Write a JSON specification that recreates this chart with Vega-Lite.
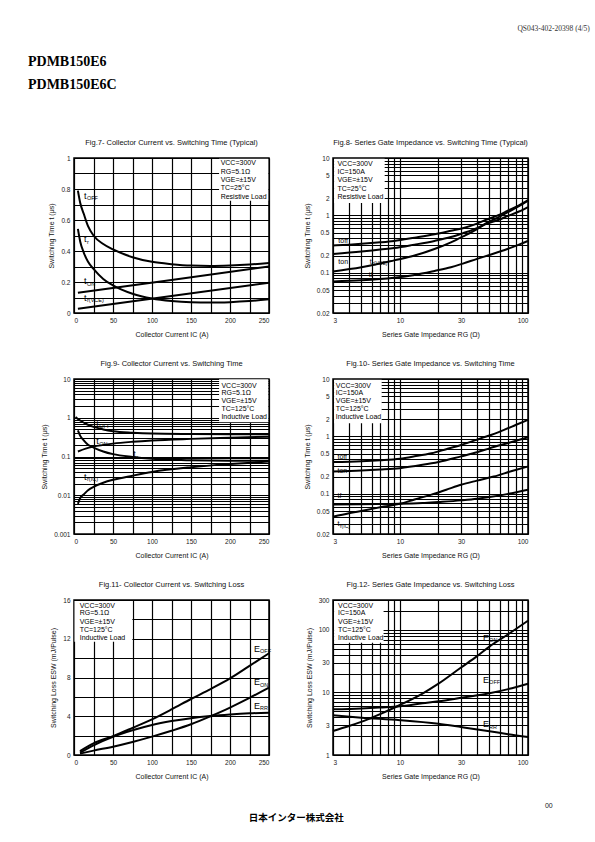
{
"$schema":"https://vega.github.io/schema/vega-lite/v6.json",
"padding":{"left":27,"top":25,"right":5,"bottom":5},
"background":"white",
"title":{"text":"QS043-402-20398 (4/5)","anchor":"end","fontSize":7.5,"font":"Liberation Serif","fontWeight":"normal","color":"#333","offset":22,"dx":37},
"vconcat":[{
 "title":{"text":["PDMB150E6","PDMB150E6C"],"anchor":"start","fontSize":14,"font":"Liberation Serif","fontWeight":"bold","color":"black","lineHeight":23,"offset":46,"dx":-12},
 "vconcat":[{
  "title":{"text":"日本インター株式会社","orient":"bottom","anchor":"middle","fontSize":9.5,"font":"Noto Sans CJK JP","fontWeight":"bold","color":"black","offset":4},
  "vconcat":[{
   "title":{"text":"00","orient":"bottom","anchor":"end","fontSize":7,"fontWeight":"normal","color":"#222","offset":22,"dx":20},
   "columns":2,
   "spacing":{"row":66,"column":64},
   "bounds":"flush",
   "concat":[
    {"width":195,"height":155,"data":{"name":"f7"},
     "title":{"text":"Fig.7- Collector Current vs. Switching Time (Typical)"},
     "encoding":{
      "x":{"field":"x","type":"quantitative","scale":{"domain":[0,250],"nice":false},"axis":{"title":"Collector Current IC (A)","values":[0,25,50,75,100,125,150,175,200,225,250],"labelExpr":"datum.value % 50 === 0 ? format(datum.value, 'd') : ''"}},
      "y":{"field":"y","type":"quantitative","scale":{"domain":[0,1],"nice":false},"axis":{"title":"Switching Time t (μs)","values":[0,0.1,0.2,0.3,0.4,0.5,0.6,0.7,0.8,0.9,1],"format":"~g","labelExpr":"indexof(['0','0.2','0.4','0.6','0.8','1'], datum.label) >= 0 ? datum.label : ''"}}},
     "layer":[
      {"transform":[{"filter":"datum.k==='b'"}],"mark":{"type":"rect","fill":"white"},"encoding":{"x2":{"field":"x2"},"y2":{"field":"y2"}}},
      {"transform":[{"filter":"datum.k==='c'"}],"mark":{"type":"line","stroke":"black","strokeWidth":2,"interpolate":"monotone"},"encoding":{"detail":{"field":"s"}}},
      {"transform":[{"filter":"datum.k==='n'"}],"mark":{"type":"text","align":"left","baseline":"middle","fontSize":7,"fill":"black"},"encoding":{"text":{"field":"t"}}},
      {"transform":[{"filter":"datum.k==='l'"}],"mark":{"type":"text","align":"left","baseline":"middle","fontSize":9,"fill":"black"},"encoding":{"text":{"field":"m"}}},
      {"transform":[{"filter":"datum.k==='l'"}],"mark":{"type":"text","align":"left","baseline":"middle","fontSize":5.5,"dx":3,"dy":2.5,"fill":"black"},"encoding":{"text":{"field":"sub"}}}
     ]},
    {"width":195,"height":155,"data":{"name":"f8"},
     "title":{"text":"Fig.8- Series Gate Impedance vs. Switching Time  (Typical)"},
     "encoding":{
      "x":{"field":"x","type":"quantitative","scale":{"type":"log","domain":[3,100],"nice":false},"axis":{"title":"Series Gate Impedance RG (Ω)","values":[3,4,5,6,7,8,9,10,20,30,40,50,60,70,80,90,100],"format":"~g","labelExpr":"indexof(['3','10','30','100'], datum.label) >= 0 ? datum.label : ''"}},
      "y":{"field":"y","type":"quantitative","scale":{"type":"log","domain":[0.02,10],"nice":false},"axis":{"title":"Switching Time t (μs)","values":[0.02,0.03,0.04,0.05,0.06,0.07,0.08,0.09,0.1,0.2,0.3,0.4,0.5,0.6,0.7,0.8,0.9,1,2,3,4,5,6,7,8,9,10],"format":"~g","labelExpr":"indexof(['0.02','0.05','0.1','0.2','0.5','1','2','5','10'], datum.label) >= 0 ? datum.label : ''"}}},
     "layer":[
      {"transform":[{"filter":"datum.k==='b'"}],"mark":{"type":"rect","fill":"white"},"encoding":{"x2":{"field":"x2"},"y2":{"field":"y2"}}},
      {"transform":[{"filter":"datum.k==='c'"}],"mark":{"type":"line","stroke":"black","strokeWidth":2,"interpolate":"monotone"},"encoding":{"detail":{"field":"s"}}},
      {"transform":[{"filter":"datum.k==='n'"}],"mark":{"type":"text","align":"left","baseline":"middle","fontSize":7,"fill":"black"},"encoding":{"text":{"field":"t"}}},
      {"transform":[{"filter":"datum.k==='l'"}],"mark":{"type":"text","align":"left","baseline":"middle","fontSize":7,"fill":"black"},"encoding":{"text":{"field":"m"}}},
      {"transform":[{"filter":"datum.k==='l'"}],"mark":{"type":"text","align":"left","baseline":"middle","fontSize":5,"dx":2.5,"dy":1.5,"fill":"black"},"encoding":{"text":{"field":"sub"}}}
     ]},
    {"width":195,"height":155,"data":{"name":"f9"},
     "title":{"text":"Fig.9- Collector Current vs. Switching Time"},
     "encoding":{
      "x":{"field":"x","type":"quantitative","scale":{"domain":[0,250],"nice":false},"axis":{"title":"Collector Current IC (A)","values":[0,25,50,75,100,125,150,175,200,225,250],"labelExpr":"datum.value % 50 === 0 ? format(datum.value, 'd') : ''"}},
      "y":{"field":"y","type":"quantitative","scale":{"type":"log","domain":[0.001,10],"nice":false},"axis":{"title":"Switching Time t (μs)","values":[0.001,0.002,0.003,0.004,0.005,0.006,0.007,0.008,0.009,0.01,0.02,0.03,0.04,0.05,0.06,0.07,0.08,0.09,0.1,0.2,0.3,0.4,0.5,0.6,0.7,0.8,0.9,1,2,3,4,5,6,7,8,9,10],"format":"~g","labelExpr":"indexof(['0.001','0.01','0.1','1','10'], datum.label) >= 0 ? datum.label : ''"}}},
     "layer":[
      {"transform":[{"filter":"datum.k==='b'"}],"mark":{"type":"rect","fill":"white"},"encoding":{"x2":{"field":"x2"},"y2":{"field":"y2"}}},
      {"transform":[{"filter":"datum.k==='c'"}],"mark":{"type":"line","stroke":"black","strokeWidth":2,"interpolate":"monotone"},"encoding":{"detail":{"field":"s"}}},
      {"transform":[{"filter":"datum.k==='n'"}],"mark":{"type":"text","align":"left","baseline":"middle","fontSize":7,"fill":"black"},"encoding":{"text":{"field":"t"}}},
      {"transform":[{"filter":"datum.k==='l'"}],"mark":{"type":"text","align":"left","baseline":"middle","fontSize":9,"fill":"black"},"encoding":{"text":{"field":"m"}}},
      {"transform":[{"filter":"datum.k==='l'"}],"mark":{"type":"text","align":"left","baseline":"middle","fontSize":5.5,"dx":3,"dy":2.5,"fill":"black"},"encoding":{"text":{"field":"sub"}}}
     ]},
    {"width":195,"height":155,"data":{"name":"f10"},
     "title":{"text":"Fig.10- Series Gate Impedance vs. Switching Time"},
     "encoding":{
      "x":{"field":"x","type":"quantitative","scale":{"type":"log","domain":[3,100],"nice":false},"axis":{"title":"Series Gate Impedance RG (Ω)","values":[3,4,5,6,7,8,9,10,20,30,40,50,60,70,80,90,100],"format":"~g","labelExpr":"indexof(['3','10','30','100'], datum.label) >= 0 ? datum.label : ''"}},
      "y":{"field":"y","type":"quantitative","scale":{"type":"log","domain":[0.02,10],"nice":false},"axis":{"title":"Switching Time t (μs)","values":[0.02,0.03,0.04,0.05,0.06,0.07,0.08,0.09,0.1,0.2,0.3,0.4,0.5,0.6,0.7,0.8,0.9,1,2,3,4,5,6,7,8,9,10],"format":"~g","labelExpr":"indexof(['0.02','0.05','0.1','0.2','0.5','1','2','5','10'], datum.label) >= 0 ? datum.label : ''"}}},
     "layer":[
      {"transform":[{"filter":"datum.k==='b'"}],"mark":{"type":"rect","fill":"white"},"encoding":{"x2":{"field":"x2"},"y2":{"field":"y2"}}},
      {"transform":[{"filter":"datum.k==='c'"}],"mark":{"type":"line","stroke":"black","strokeWidth":2,"interpolate":"monotone"},"encoding":{"detail":{"field":"s"}}},
      {"transform":[{"filter":"datum.k==='n'"}],"mark":{"type":"text","align":"left","baseline":"middle","fontSize":7,"fill":"black"},"encoding":{"text":{"field":"t"}}},
      {"transform":[{"filter":"datum.k==='l'"}],"mark":{"type":"text","align":"left","baseline":"middle","fontSize":7,"fill":"black"},"encoding":{"text":{"field":"m"}}},
      {"transform":[{"filter":"datum.k==='l'"}],"mark":{"type":"text","align":"left","baseline":"middle","fontSize":5,"dx":2.5,"dy":1.5,"fill":"black"},"encoding":{"text":{"field":"sub"}}}
     ]},
    {"width":195,"height":155,"data":{"name":"f11"},
     "title":{"text":"Fig.11- Collector Current vs. Switching Loss"},
     "encoding":{
      "x":{"field":"x","type":"quantitative","scale":{"domain":[0,250],"nice":false},"axis":{"title":"Collector Current IC (A)","values":[0,25,50,75,100,125,150,175,200,225,250],"labelExpr":"datum.value % 50 === 0 ? format(datum.value, 'd') : ''"}},
      "y":{"field":"y","type":"quantitative","scale":{"domain":[0,16],"nice":false},"axis":{"title":"Switching Loss ESW (mJ/Pulse)","values":[0,2,4,6,8,10,12,14,16],"labelExpr":"datum.value % 4 === 0 ? format(datum.value, 'd') : ''"}}},
     "layer":[
      {"transform":[{"filter":"datum.k==='b'"}],"mark":{"type":"rect","fill":"white"},"encoding":{"x2":{"field":"x2"},"y2":{"field":"y2"}}},
      {"transform":[{"filter":"datum.k==='c'"}],"mark":{"type":"line","stroke":"black","strokeWidth":2,"interpolate":"monotone"},"encoding":{"detail":{"field":"s"}}},
      {"transform":[{"filter":"datum.k==='n'"}],"mark":{"type":"text","align":"left","baseline":"middle","fontSize":7,"fill":"black"},"encoding":{"text":{"field":"t"}}},
      {"transform":[{"filter":"datum.k==='l'"}],"mark":{"type":"text","align":"left","baseline":"middle","fontSize":9,"fill":"black"},"encoding":{"text":{"field":"m"}}},
      {"transform":[{"filter":"datum.k==='l'"}],"mark":{"type":"text","align":"left","baseline":"middle","fontSize":5.5,"dx":6,"dy":2.5,"fill":"black"},"encoding":{"text":{"field":"sub"}}}
     ]},
    {"width":195,"height":155,"data":{"name":"f12"},
     "title":{"text":"Fig.12- Series Gate Impedance vs. Switching Loss"},
     "encoding":{
      "x":{"field":"x","type":"quantitative","scale":{"type":"log","domain":[3,100],"nice":false},"axis":{"title":"Series Gate Impedance RG (Ω)","values":[3,4,5,6,7,8,9,10,20,30,40,50,60,70,80,90,100],"format":"~g","labelExpr":"indexof(['3','10','30','100'], datum.label) >= 0 ? datum.label : ''"}},
      "y":{"field":"y","type":"quantitative","scale":{"type":"log","domain":[1,300],"nice":false},"axis":{"title":"Switching Loss ESW (mJ/Pulse)","values":[1,2,3,4,5,6,7,8,9,10,20,30,40,50,60,70,80,90,100,200,300],"format":"~g","labelExpr":"indexof(['1','3','10','30','100','300'], datum.label) >= 0 ? datum.label : ''"}}},
     "layer":[
      {"transform":[{"filter":"datum.k==='b'"}],"mark":{"type":"rect","fill":"white"},"encoding":{"x2":{"field":"x2"},"y2":{"field":"y2"}}},
      {"transform":[{"filter":"datum.k==='c'"}],"mark":{"type":"line","stroke":"black","strokeWidth":2,"interpolate":"monotone"},"encoding":{"detail":{"field":"s"}}},
      {"transform":[{"filter":"datum.k==='n'"}],"mark":{"type":"text","align":"left","baseline":"middle","fontSize":7,"fill":"black"},"encoding":{"text":{"field":"t"}}},
      {"transform":[{"filter":"datum.k==='l'"}],"mark":{"type":"text","align":"left","baseline":"middle","fontSize":9,"fill":"black"},"encoding":{"text":{"field":"m"}}},
      {"transform":[{"filter":"datum.k==='l'"}],"mark":{"type":"text","align":"left","baseline":"middle","fontSize":5.5,"dx":6,"dy":2.5,"fill":"black"},"encoding":{"text":{"field":"sub"}}}
     ]}
   ]
  }]
 }]
}],
"datasets":{
"f7":[
{"k":"b","x":186,"x2":249,"y":0.725,"y2":0.995},
{"k":"n","x":188,"y":0.965,"t":"VCC=300V"},{"k":"n","x":188,"y":0.911,"t":"RG=5.1Ω"},{"k":"n","x":188,"y":0.857,"t":"VGE=±15V"},{"k":"n","x":188,"y":0.804,"t":"TC=25°C"},{"k":"n","x":188,"y":0.75,"t":"Resistive Load"},
{"k":"l","x":12.8,"y":0.755,"m":"t","sub":"OFF"},{"k":"l","x":12.8,"y":0.477,"m":"t","sub":"r"},{"k":"l","x":12.8,"y":0.206,"m":"t","sub":"ON"},{"k":"l","x":12.8,"y":0.097,"m":"t","sub":"r(VCE)"},
{"k":"c","s":"tOFF","x":5,"y":0.79},{"k":"c","s":"tOFF","x":8,"y":0.71},{"k":"c","s":"tOFF","x":12.5,"y":0.64},{"k":"c","s":"tOFF","x":18,"y":0.56},{"k":"c","s":"tOFF","x":25,"y":0.5},{"k":"c","s":"tOFF","x":37.5,"y":0.445},{"k":"c","s":"tOFF","x":50,"y":0.41},{"k":"c","s":"tOFF","x":75,"y":0.36},{"k":"c","s":"tOFF","x":100,"y":0.33},{"k":"c","s":"tOFF","x":125,"y":0.315},{"k":"c","s":"tOFF","x":150,"y":0.306},{"k":"c","s":"tOFF","x":175,"y":0.304},{"k":"c","s":"tOFF","x":200,"y":0.307},{"k":"c","s":"tOFF","x":225,"y":0.313},{"k":"c","s":"tOFF","x":250,"y":0.322},
{"k":"c","s":"tr","x":5,"y":0.543},{"k":"c","s":"tr","x":8,"y":0.46},{"k":"c","s":"tr","x":12.5,"y":0.39},{"k":"c","s":"tr","x":18,"y":0.33},{"k":"c","s":"tr","x":25,"y":0.285},{"k":"c","s":"tr","x":37.5,"y":0.22},{"k":"c","s":"tr","x":50,"y":0.178},{"k":"c","s":"tr","x":75,"y":0.124},{"k":"c","s":"tr","x":100,"y":0.093},{"k":"c","s":"tr","x":125,"y":0.077},{"k":"c","s":"tr","x":150,"y":0.069},{"k":"c","s":"tr","x":175,"y":0.067},{"k":"c","s":"tr","x":200,"y":0.07},{"k":"c","s":"tr","x":225,"y":0.077},{"k":"c","s":"tr","x":250,"y":0.088},
{"k":"c","s":"tON","x":5,"y":0.13},{"k":"c","s":"tON","x":125,"y":0.213},{"k":"c","s":"tON","x":250,"y":0.3},
{"k":"c","s":"trVCE","x":5,"y":0.027},{"k":"c","s":"trVCE","x":125,"y":0.11},{"k":"c","s":"trVCE","x":250,"y":0.195}
],
"f8":[
{"k":"b","x":3.06,"x2":7.6,"y":1.65,"y2":9.7},
{"k":"n","x":3.25,"y":7.8,"t":"VCC=300V"},{"k":"n","x":3.25,"y":5.77,"t":"IC=150A"},{"k":"n","x":3.25,"y":4.2,"t":"VGE=±15V"},{"k":"n","x":3.25,"y":2.9,"t":"TC=25°C"},{"k":"n","x":3.25,"y":2.12,"t":"Resistive Load"},
{"k":"l","x":3.3,"y":0.355,"m":"toff","sub":""},{"k":"l","x":3.3,"y":0.155,"m":"ton","sub":""},{"k":"l","x":5.8,"y":0.155,"m":"t","sub":"r(VCE)"},{"k":"l","x":5.7,"y":0.092,"m":"tf","sub":""},
{"k":"c","s":"toff","x":3,"y":0.3},{"k":"c","s":"toff","x":4,"y":0.31},{"k":"c","s":"toff","x":5,"y":0.32},{"k":"c","s":"toff","x":7,"y":0.34},{"k":"c","s":"toff","x":9,"y":0.36},{"k":"c","s":"toff","x":13,"y":0.41},{"k":"c","s":"toff","x":18.6,"y":0.47},{"k":"c","s":"toff","x":25,"y":0.54},{"k":"c","s":"toff","x":31,"y":0.6},{"k":"c","s":"toff","x":40,"y":0.72},{"k":"c","s":"toff","x":47.6,"y":0.85},{"k":"c","s":"toff","x":60,"y":1.03},{"k":"c","s":"toff","x":69,"y":1.2},{"k":"c","s":"toff","x":85,"y":1.5},{"k":"c","s":"toff","x":100,"y":1.85},
{"k":"c","s":"ton","x":3,"y":0.213},{"k":"c","s":"ton","x":5,"y":0.235},{"k":"c","s":"ton","x":7,"y":0.255},{"k":"c","s":"ton","x":9,"y":0.27},{"k":"c","s":"ton","x":13,"y":0.31},{"k":"c","s":"ton","x":18.6,"y":0.36},{"k":"c","s":"ton","x":25,"y":0.42},{"k":"c","s":"ton","x":31,"y":0.49},{"k":"c","s":"ton","x":40,"y":0.6},{"k":"c","s":"ton","x":47.6,"y":0.72},{"k":"c","s":"ton","x":60,"y":0.85},{"k":"c","s":"ton","x":69,"y":0.97},{"k":"c","s":"ton","x":85,"y":1.17},{"k":"c","s":"ton","x":100,"y":1.4},
{"k":"c","s":"trVCE","x":3,"y":0.106},{"k":"c","s":"trVCE","x":5,"y":0.125},{"k":"c","s":"trVCE","x":7,"y":0.145},{"k":"c","s":"trVCE","x":9,"y":0.165},{"k":"c","s":"trVCE","x":13,"y":0.2},{"k":"c","s":"trVCE","x":18.6,"y":0.26},{"k":"c","s":"trVCE","x":25,"y":0.34},{"k":"c","s":"trVCE","x":31,"y":0.43},{"k":"c","s":"trVCE","x":40,"y":0.58},{"k":"c","s":"trVCE","x":47.6,"y":0.74},{"k":"c","s":"trVCE","x":60,"y":0.95},{"k":"c","s":"trVCE","x":69,"y":1.13},{"k":"c","s":"trVCE","x":85,"y":1.45},{"k":"c","s":"trVCE","x":100,"y":1.8},
{"k":"c","s":"tf","x":3,"y":0.071},{"k":"c","s":"tf","x":5,"y":0.074},{"k":"c","s":"tf","x":9,"y":0.082},{"k":"c","s":"tf","x":13,"y":0.092},{"k":"c","s":"tf","x":18.6,"y":0.108},{"k":"c","s":"tf","x":25,"y":0.125},{"k":"c","s":"tf","x":31,"y":0.145},{"k":"c","s":"tf","x":40,"y":0.175},{"k":"c","s":"tf","x":50,"y":0.205},{"k":"c","s":"tf","x":69,"y":0.26},{"k":"c","s":"tf","x":85,"y":0.31},{"k":"c","s":"tf","x":100,"y":0.36}
],
"f9":[
{"k":"b","x":186,"x2":249,"y":0.76,"y2":9.8},
{"k":"n","x":189,"y":6.7,"t":"VCC=300V"},{"k":"n","x":189,"y":4.35,"t":"RG=5.1Ω"},{"k":"n","x":189,"y":2.75,"t":"VGE=±15V"},{"k":"n","x":189,"y":1.68,"t":"TC=125°C"},{"k":"n","x":189,"y":1.03,"t":"Inductive Load"},
{"k":"l","x":28.6,"y":0.69,"m":"t","sub":"OFF"},{"k":"l","x":28.6,"y":0.247,"m":"t","sub":"ON"},{"k":"l","x":76,"y":0.116,"m":"t","sub":"r"},{"k":"l","x":12.8,"y":0.03,"m":"t","sub":"r(IC)"},
{"k":"c","s":"tOFF","x":2,"y":1.05},{"k":"c","s":"tOFF","x":5,"y":0.93},{"k":"c","s":"tOFF","x":10,"y":0.8},{"k":"c","s":"tOFF","x":15,"y":0.7},{"k":"c","s":"tOFF","x":25,"y":0.58},{"k":"c","s":"tOFF","x":37.5,"y":0.5},{"k":"c","s":"tOFF","x":50,"y":0.45},{"k":"c","s":"tOFF","x":75,"y":0.41},{"k":"c","s":"tOFF","x":100,"y":0.39},{"k":"c","s":"tOFF","x":150,"y":0.38},{"k":"c","s":"tOFF","x":200,"y":0.375},{"k":"c","s":"tOFF","x":250,"y":0.375},
{"k":"c","s":"tON","x":5,"y":0.135},{"k":"c","s":"tON","x":15,"y":0.16},{"k":"c","s":"tON","x":25,"y":0.18},{"k":"c","s":"tON","x":50,"y":0.215},{"k":"c","s":"tON","x":75,"y":0.24},{"k":"c","s":"tON","x":100,"y":0.26},{"k":"c","s":"tON","x":150,"y":0.285},{"k":"c","s":"tON","x":200,"y":0.305},{"k":"c","s":"tON","x":250,"y":0.325},
{"k":"c","s":"tr","x":5,"y":0.47},{"k":"c","s":"tr","x":8,"y":0.34},{"k":"c","s":"tr","x":12.5,"y":0.26},{"k":"c","s":"tr","x":18,"y":0.2},{"k":"c","s":"tr","x":25,"y":0.17},{"k":"c","s":"tr","x":37.5,"y":0.135},{"k":"c","s":"tr","x":50,"y":0.115},{"k":"c","s":"tr","x":75,"y":0.097},{"k":"c","s":"tr","x":100,"y":0.087},{"k":"c","s":"tr","x":150,"y":0.08},{"k":"c","s":"tr","x":200,"y":0.078},{"k":"c","s":"tr","x":250,"y":0.078},
{"k":"c","s":"trIC","x":5,"y":0.006},{"k":"c","s":"trIC","x":8,"y":0.0085},{"k":"c","s":"trIC","x":12.5,"y":0.0105},{"k":"c","s":"trIC","x":18,"y":0.0135},{"k":"c","s":"trIC","x":25,"y":0.0165},{"k":"c","s":"trIC","x":37.5,"y":0.021},{"k":"c","s":"trIC","x":50,"y":0.025},{"k":"c","s":"trIC","x":75,"y":0.032},{"k":"c","s":"trIC","x":100,"y":0.04},{"k":"c","s":"trIC","x":150,"y":0.053},{"k":"c","s":"trIC","x":200,"y":0.064},{"k":"c","s":"trIC","x":250,"y":0.074}
],
"f10":[
{"k":"b","x":3.06,"x2":7.2,"y":1.69,"y2":9.7},
{"k":"n","x":3.15,"y":7.45,"t":"VCC=300V"},{"k":"n","x":3.15,"y":5.63,"t":"IC=150A"},{"k":"n","x":3.15,"y":4.19,"t":"VGE=±15V"},{"k":"n","x":3.15,"y":3.0,"t":"TC=125°C"},{"k":"n","x":3.15,"y":2.15,"t":"Inductive Load"},
{"k":"l","x":3.25,"y":0.443,"m":"toff","sub":""},{"k":"l","x":3.25,"y":0.247,"m":"ton","sub":""},{"k":"l","x":3.25,"y":0.093,"m":"tf","sub":""},{"k":"l","x":3.25,"y":0.0298,"m":"t","sub":"r(IC)"},
{"k":"c","s":"toff","x":3,"y":0.357},{"k":"c","s":"toff","x":5,"y":0.37},{"k":"c","s":"toff","x":7,"y":0.385},{"k":"c","s":"toff","x":10,"y":0.41},{"k":"c","s":"toff","x":13,"y":0.45},{"k":"c","s":"toff","x":17.6,"y":0.51},{"k":"c","s":"toff","x":23,"y":0.6},{"k":"c","s":"toff","x":30,"y":0.71},{"k":"c","s":"toff","x":43,"y":0.93},{"k":"c","s":"toff","x":55,"y":1.12},{"k":"c","s":"toff","x":65,"y":1.3},{"k":"c","s":"toff","x":80,"y":1.58},{"k":"c","s":"toff","x":100,"y":1.95},
{"k":"c","s":"ton","x":3,"y":0.246},{"k":"c","s":"ton","x":5,"y":0.255},{"k":"c","s":"ton","x":7,"y":0.265},{"k":"c","s":"ton","x":10,"y":0.28},{"k":"c","s":"ton","x":15,"y":0.32},{"k":"c","s":"ton","x":20,"y":0.36},{"k":"c","s":"ton","x":30,"y":0.45},{"k":"c","s":"ton","x":40,"y":0.53},{"k":"c","s":"ton","x":50,"y":0.62},{"k":"c","s":"ton","x":70,"y":0.77},{"k":"c","s":"ton","x":100,"y":0.97},
{"k":"c","s":"tf","x":3,"y":0.065},{"k":"c","s":"tf","x":5,"y":0.066},{"k":"c","s":"tf","x":10,"y":0.067},{"k":"c","s":"tf","x":15,"y":0.069},{"k":"c","s":"tf","x":20,"y":0.072},{"k":"c","s":"tf","x":30,"y":0.077},{"k":"c","s":"tf","x":40,"y":0.082},{"k":"c","s":"tf","x":50,"y":0.088},{"k":"c","s":"tf","x":70,"y":0.1},{"k":"c","s":"tf","x":100,"y":0.118},
{"k":"c","s":"trIC","x":3,"y":0.04},{"k":"c","s":"trIC","x":4,"y":0.046},{"k":"c","s":"trIC","x":5.6,"y":0.053},{"k":"c","s":"trIC","x":7.5,"y":0.06},{"k":"c","s":"trIC","x":10,"y":0.067},{"k":"c","s":"trIC","x":13,"y":0.08},{"k":"c","s":"trIC","x":17.6,"y":0.097},{"k":"c","s":"trIC","x":23,"y":0.118},{"k":"c","s":"trIC","x":30,"y":0.144},{"k":"c","s":"trIC","x":40,"y":0.17},{"k":"c","s":"trIC","x":54,"y":0.2},{"k":"c","s":"trIC","x":75,"y":0.25},{"k":"c","s":"trIC","x":100,"y":0.3}
],
"f11":[
{"k":"b","x":0.6,"x2":74.8,"y":11.7,"y2":15.9},
{"k":"n","x":7.3,"y":15.38,"t":"VCC=300V"},{"k":"n","x":7.3,"y":14.61,"t":"RG=5.1Ω"},{"k":"n","x":7.3,"y":13.76,"t":"VGE=±15V"},{"k":"n","x":7.3,"y":12.9,"t":"TC=125°C"},{"k":"n","x":7.3,"y":12.07,"t":"Inductive Load"},
{"k":"l","x":230.8,"y":10.97,"m":"E","sub":"OFF"},{"k":"l","x":230.8,"y":7.53,"m":"E","sub":"ON"},{"k":"l","x":230.8,"y":5.06,"m":"E","sub":"RR"},
{"k":"c","s":"EOFF","x":7.7,"y":0.41},{"k":"c","s":"EOFF","x":25,"y":1.2},{"k":"c","s":"EOFF","x":50,"y":1.95},{"k":"c","s":"EOFF","x":75,"y":2.8},{"k":"c","s":"EOFF","x":100,"y":3.68},{"k":"c","s":"EOFF","x":125,"y":4.7},{"k":"c","s":"EOFF","x":150,"y":5.78},{"k":"c","s":"EOFF","x":175,"y":6.8},{"k":"c","s":"EOFF","x":200,"y":7.9},{"k":"c","s":"EOFF","x":225,"y":9.2},{"k":"c","s":"EOFF","x":250,"y":10.5},
{"k":"c","s":"EON","x":7.7,"y":0.14},{"k":"c","s":"EON","x":25,"y":0.45},{"k":"c","s":"EON","x":50,"y":0.86},{"k":"c","s":"EON","x":75,"y":1.35},{"k":"c","s":"EON","x":100,"y":1.9},{"k":"c","s":"EON","x":125,"y":2.5},{"k":"c","s":"EON","x":150,"y":3.17},{"k":"c","s":"EON","x":175,"y":4.0},{"k":"c","s":"EON","x":200,"y":4.9},{"k":"c","s":"EON","x":225,"y":5.9},{"k":"c","s":"EON","x":250,"y":6.95},
{"k":"c","s":"ERR","x":7.7,"y":0.24},{"k":"c","s":"ERR","x":25,"y":1.0},{"k":"c","s":"ERR","x":50,"y":1.88},{"k":"c","s":"ERR","x":75,"y":2.55},{"k":"c","s":"ERR","x":100,"y":3.1},{"k":"c","s":"ERR","x":125,"y":3.5},{"k":"c","s":"ERR","x":150,"y":3.8},{"k":"c","s":"ERR","x":175,"y":4.02},{"k":"c","s":"ERR","x":200,"y":4.18},{"k":"c","s":"ERR","x":225,"y":4.3},{"k":"c","s":"ERR","x":250,"y":4.37}
],
"f12":[
{"k":"b","x":3.06,"x2":7.45,"y":62,"y2":290},
{"k":"n","x":3.28,"y":240,"t":"VCC=300V"},{"k":"n","x":3.28,"y":183,"t":"IC=150A"},{"k":"n","x":3.28,"y":135,"t":"VGE=±15V"},{"k":"n","x":3.28,"y":99.4,"t":"TC=125°C"},{"k":"n","x":3.28,"y":74,"t":"Inductive Load"},
{"k":"l","x":44.6,"y":74.9,"m":"E","sub":"ON"},{"k":"l","x":44.6,"y":15.8,"m":"E","sub":"OFF"},{"k":"l","x":44.6,"y":3.08,"m":"E","sub":"RR"},
{"k":"c","s":"EON","x":3,"y":2.42},{"k":"c","s":"EON","x":4,"y":2.9},{"k":"c","s":"EON","x":5.6,"y":3.7},{"k":"c","s":"EON","x":7,"y":4.5},{"k":"c","s":"EON","x":10,"y":6.3},{"k":"c","s":"EON","x":15,"y":9.6},{"k":"c","s":"EON","x":20,"y":13.8},{"k":"c","s":"EON","x":30,"y":25},{"k":"c","s":"EON","x":40,"y":38},{"k":"c","s":"EON","x":50,"y":54},{"k":"c","s":"EON","x":70,"y":85},{"k":"c","s":"EON","x":100,"y":140},
{"k":"c","s":"EOFF","x":3,"y":5.36},{"k":"c","s":"EOFF","x":5,"y":5.55},{"k":"c","s":"EOFF","x":7,"y":5.75},{"k":"c","s":"EOFF","x":10,"y":6.0},{"k":"c","s":"EOFF","x":15,"y":6.7},{"k":"c","s":"EOFF","x":20,"y":7.2},{"k":"c","s":"EOFF","x":30,"y":8.2},{"k":"c","s":"EOFF","x":50,"y":9.7},{"k":"c","s":"EOFF","x":70,"y":11.3},{"k":"c","s":"EOFF","x":100,"y":13.8},
{"k":"c","s":"ERR","x":3,"y":4.3},{"k":"c","s":"ERR","x":5,"y":3.95},{"k":"c","s":"ERR","x":10,"y":3.6},{"k":"c","s":"ERR","x":20,"y":3.15},{"k":"c","s":"ERR","x":30,"y":2.8},{"k":"c","s":"ERR","x":50,"y":2.4},{"k":"c","s":"ERR","x":70,"y":2.15},{"k":"c","s":"ERR","x":100,"y":1.94}
]
},
"config":{
 "font":"Liberation Sans",
 "view":{"stroke":"black","strokeWidth":1.5},
 "axis":{"grid":true,"gridColor":"black","gridWidth":1.2,"gridOpacity":1,"domain":false,"ticks":false,"labelFont":"Liberation Sans","labelFontSize":6.5,"labelColor":"#222","labelPadding":4,"labelOverlap":false,"titleFont":"Liberation Sans","titleFontSize":7,"titleFontWeight":"normal","titleColor":"#111"},
 "axisX":{"titlePadding":7},
 "axisY":{"titlePadding":6},
 "title":{"font":"Liberation Sans","fontSize":7.5,"fontWeight":"normal","color":"#111","offset":9}
}
}
